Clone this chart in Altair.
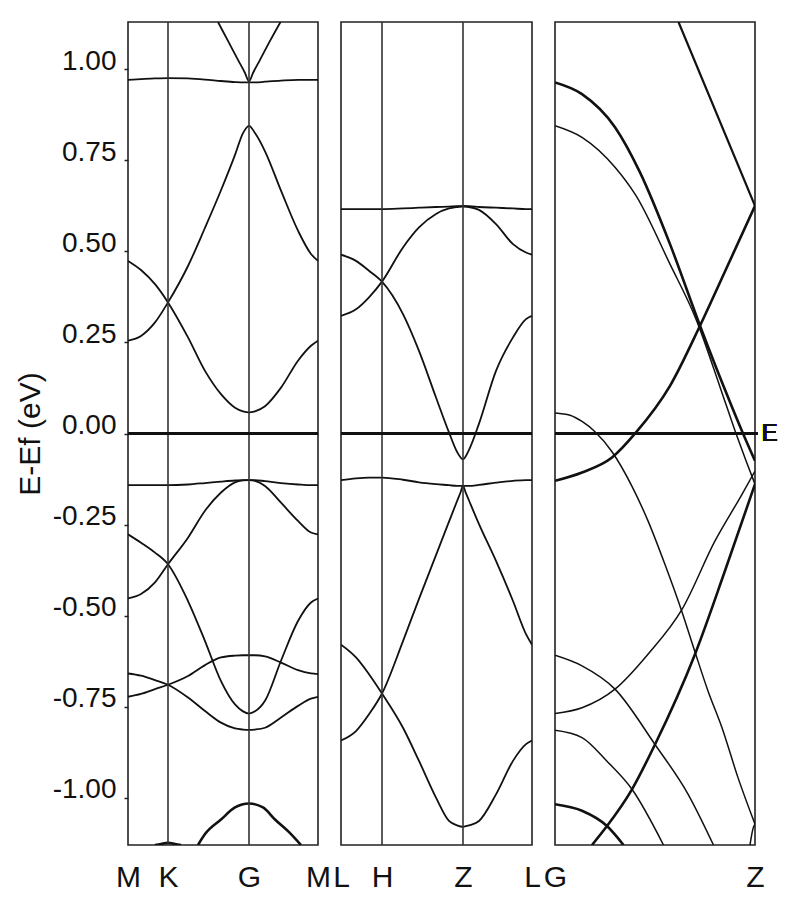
import altair as alt
import pandas as pd

FONT = "Liberation Sans"
INK = "#111111"

# ---------------- axis ticks and labels ----------------
Y_TICKS = [-1.0, -0.75, -0.5, -0.25, 0.0, 0.25, 0.5, 0.75, 1.0]
Y_TITLE = "E-Ef (eV)"
EF_LABEL = "E"

P1_TICKS = [0, 40, 121, 190]
P1_LABELS = ["M", "K", "G", "M"]
P2_TICKS = [0, 41, 122, 191]
P2_LABELS = ["L", "H", "Z", "L"]
P3_TICKS = [0, 200]
P3_LABELS = ["G", "Z"]

P1_VLINES = [40, 121]
P2_VLINES = [41, 122]

# ---------------- panel 1 : M-K-G-M ----------------
P1_K = [0, 13, 27, 40, 60, 77, 93, 107, 115, 121, 127, 137, 153, 170, 183, 190]
P1_FLAT_UP = [0.971, 0.973, 0.975, 0.976, 0.975, 0.972, 0.968, 0.965, 0.964, 0.964, 0.964, 0.966, 0.969, 0.971, 0.971, 0.971]
P1_BAND_X = [0.255, 0.268, 0.305, 0.36, 0.46, 0.565, 0.668, 0.765, 0.825, 0.845, 0.825, 0.775, 0.667, 0.557, 0.493, 0.474]
P1_BAND_Y = [0.474, 0.449, 0.41, 0.36, 0.264, 0.172, 0.108, 0.071, 0.061, 0.058, 0.061, 0.075, 0.126, 0.2, 0.241, 0.255]
P1_FLAT_DN = [-0.142, -0.142, -0.142, -0.142, -0.14, -0.136, -0.132, -0.129, -0.128, -0.128, -0.128, -0.131, -0.136, -0.14, -0.142, -0.142]
P1_BAND_Q = [-0.453, -0.441, -0.409, -0.359, -0.286, -0.212, -0.162, -0.134, -0.129, -0.128, -0.13, -0.144, -0.19, -0.24, -0.272, -0.277]
P1_BAND_P = [-0.277, -0.3, -0.327, -0.359, -0.46, -0.57, -0.68, -0.744, -0.763, -0.769, -0.763, -0.734, -0.624, -0.515, -0.464, -0.453]
P1_BAND_R = [-0.723, -0.715, -0.702, -0.69, -0.666, -0.636, -0.615, -0.61, -0.609, -0.609, -0.609, -0.612, -0.629, -0.65, -0.659, -0.661]
P1_BAND_S = [-0.659, -0.665, -0.677, -0.69, -0.725, -0.762, -0.794, -0.81, -0.813, -0.814, -0.813, -0.808, -0.78, -0.748, -0.728, -0.723]
P1_V_K = [90, 100, 110, 117, 121, 125, 132, 142, 152.5]
P1_V_E = [1.13, 1.078, 1.026, 0.99, 0.967, 0.99, 1.026, 1.078, 1.13]
P1_BOT_K = [70, 77, 93, 107, 121, 135, 147, 163, 173]
P1_BOT_E = [-1.13, -1.1, -1.06, -1.027, -1.016, -1.027, -1.06, -1.1, -1.13]
P1_BUMP_K = [27, 33, 40, 47, 53]
P1_BUMP_E = [-1.13, -1.127, -1.124, -1.127, -1.13]

# ---------------- panel 2 : L-H-Z-L ----------------
P2_K = [0, 15, 28, 41, 62, 78, 95, 108, 116, 122, 128, 138, 155, 172, 185, 191]
P2_FLAT_UP = [0.616, 0.616, 0.616, 0.616, 0.618, 0.62, 0.622, 0.623, 0.624, 0.624, 0.624, 0.622, 0.62, 0.618, 0.616, 0.616]
P2_BAND_A = [0.323, 0.341, 0.374, 0.417, 0.511, 0.566, 0.603, 0.618, 0.622, 0.624, 0.622, 0.614, 0.575, 0.52, 0.497, 0.491]
P2_BAND_B = [0.491, 0.474, 0.447, 0.417, 0.328, 0.227, 0.099, 0.003, -0.05, -0.071, -0.045, 0.027, 0.172, 0.264, 0.314, 0.323]
P2_FLAT_DN = [-0.128, -0.123, -0.121, -0.121, -0.127, -0.134, -0.139, -0.142, -0.144, -0.144, -0.144, -0.141, -0.135, -0.13, -0.128, -0.128]
P2_BAND_D = [-0.58, -0.615, -0.661, -0.714, -0.808, -0.899, -1.0, -1.064, -1.076, -1.08, -1.076, -1.064, -0.991, -0.899, -0.853, -0.843]
P2_C_K = [0, 15, 28, 41, 62, 78, 95, 108, 116, 119.5, 122, 124.5, 128, 138, 155, 172, 185, 191]
P2_C_E = [-0.843, -0.817, -0.771, -0.714, -0.57, -0.454, -0.334, -0.242, -0.186, -0.162, -0.144, -0.161, -0.184, -0.249, -0.35, -0.46, -0.551, -0.58]

# ---------------- panel 3 : G-Z ----------------
P3_D1_K = [123.5, 200]
P3_D1_E = [1.13, 0.625]
P3_D2_K = [0, 27, 57, 81, 115, 145, 171, 200]
P3_D2_E = [-0.13, -0.107, -0.066, 0.003, 0.131, 0.296, 0.451, 0.625]
P3_D3_K = [0, 27, 60, 85, 115, 145, 170, 188, 200]
P3_D3_E = [0.964, 0.932, 0.841, 0.717, 0.52, 0.296, 0.12, 0.0, -0.075]
P3_D4_K = [0, 27, 60, 81, 115, 141, 165, 181, 191, 200]
P3_D4_E = [0.845, 0.813, 0.731, 0.653, 0.465, 0.314, 0.128, 0.0, -0.075, -0.139]
P3_D5_K = [0, 15, 27, 40, 57, 77, 93, 110, 127, 140, 153, 167, 183, 200]
P3_D5_E = [0.056, 0.05, 0.033, 0.005, -0.05, -0.145, -0.24, -0.36, -0.49, -0.6, -0.707, -0.808, -0.945, -1.073]
P3_D6_K = [195, 196.5, 198, 200]
P3_D6_E = [-1.13, -1.105, -1.085, -1.073]
P3_U1_K = [0, 27, 60, 93, 127, 160, 187, 200]
P3_U1_E = [-0.769, -0.753, -0.702, -0.606, -0.483, -0.295, -0.167, -0.103]
P3_U2_K = [37, 52, 77, 100, 140, 170, 200]
P3_U2_E = [-1.13, -1.078, -0.977, -0.854, -0.606, -0.377, -0.139]
P3_L1_K = [0, 27, 60, 100, 133, 158.5]
P3_L1_E = [-0.609, -0.638, -0.702, -0.854, -0.99, -1.13]
P3_L2_K = [0, 27, 52, 77, 108.5]
P3_L2_E = [-0.815, -0.835, -0.9, -0.977, -1.13]
P3_L3_K = [0, 27, 52, 68.5]
P3_L3_E = [-1.018, -1.036, -1.078, -1.13]

THIN, MID, THICK = 1.5, 1.8, 2.6

P1_BANDS = [
    ("flat_up", P1_K, P1_FLAT_UP, MID), ("x", P1_K, P1_BAND_X, MID),
    ("y", P1_K, P1_BAND_Y, MID), ("flat_dn", P1_K, P1_FLAT_DN, MID),
    ("q", P1_K, P1_BAND_Q, MID), ("p", P1_K, P1_BAND_P, MID),
    ("r", P1_K, P1_BAND_R, MID), ("s", P1_K, P1_BAND_S, MID),
    ("v", P1_V_K, P1_V_E, MID), ("bot", P1_BOT_K, P1_BOT_E, THICK),
    ("bump", P1_BUMP_K, P1_BUMP_E, THICK),
]
P2_BANDS = [
    ("flat_up", P2_K, P2_FLAT_UP, MID), ("a", P2_K, P2_BAND_A, MID),
    ("b", P2_K, P2_BAND_B, MID), ("flat_dn", P2_K, P2_FLAT_DN, MID),
    ("c", P2_C_K, P2_C_E, MID), ("d", P2_K, P2_BAND_D, MID),
]
P3_BANDS = [
    ("d1", P3_D1_K, P3_D1_E, 2.2), ("d2", P3_D2_K, P3_D2_E, THICK),
    ("d3", P3_D3_K, P3_D3_E, THICK), ("d4", P3_D4_K, P3_D4_E, THIN),
    ("d5", P3_D5_K, P3_D5_E, THIN), ("d6", P3_D6_K, P3_D6_E, THIN),
    ("u1", P3_U1_K, P3_U1_E, THIN), ("u2", P3_U2_K, P3_U2_E, THICK),
    ("l1", P3_L1_K, P3_L1_E, THIN), ("l2", P3_L2_K, P3_L2_E, THIN),
    ("l3", P3_L3_K, P3_L3_E, THICK),
]

H = 823
Y_DOMAIN = [-1.13, 1.13]


def frame(bands):
    rows = []
    for name, ks, es, w in bands:
        for k, e in zip(ks, es):
            rows.append({"band": name, "k": k, "E": e, "w": w})
    return pd.DataFrame(rows)


def label_expr(ticks, labels):
    expr = "''"
    for t, l in reversed(list(zip(ticks, labels))):
        expr = f"datum.value == {t} ? '{l}' : ({expr})"
    return expr


Y_LABEL_EXPR = "replace(format(datum.value, '.2f'), '\u2212', '-')"


def panel(bands, width, kmax, ticks, labels, vlines, first=False, last=False):
    df = frame(bands)
    xaxis = alt.Axis(values=ticks, labelExpr=label_expr(ticks, labels),
                     tickSize=0, labelPadding=17, labelFontSize=30,
                     labelFlush=False, labelOverlap=False, domain=False, grid=False)
    if first:
        yaxis = alt.Axis(values=Y_TICKS, labelExpr=Y_LABEL_EXPR, tickSize=4,
                         tickWidth=1.5, tickColor="#222", labelPadding=8,
                         labelFontSize=28, labelBaseline="alphabetic",
                         domain=False, grid=False, title=Y_TITLE, titleFontSize=30,
                         titleFontWeight="normal", titleX=-89, titleY=H / 2,
                         titleAngle=270, titleAlign="center",
                         titleBaseline="alphabetic")
    else:
        yaxis = alt.Axis(labels=False, ticks=False, domain=False, grid=False, title=None)

    xs = alt.Scale(domain=[0, kmax], nice=False, zero=False)
    ys = alt.Scale(domain=Y_DOMAIN, nice=False, zero=False)

    lines = alt.Chart(df).mark_line(interpolate="monotone", clip=True, color=INK).encode(
        x=alt.X("k:Q", scale=xs, axis=xaxis, title=None),
        y=alt.Y("E:Q", scale=ys, axis=yaxis, title=Y_TITLE if first else None),
        detail="band:N",
        strokeWidth=alt.StrokeWidth("w:Q", scale=None, legend=None),
    )
    layers = []
    if vlines:
        vdf = pd.DataFrame({"k": vlines})
        layers.append(alt.Chart(vdf).mark_rule(color="#333", strokeWidth=1.6).encode(x="k:Q"))
    if last:
        zero = alt.Chart(df).mark_rule(color=INK, strokeWidth=1.3).encode(
            x=alt.value(0), x2=alt.value(width + 3), y=alt.datum(0))
        etext = alt.Chart(df).mark_text(align="left", baseline="middle", fontSize=24,
                                        font=FONT, color=INK).encode(
            x=alt.value(width + 6.5), y=alt.datum(0), text=alt.value(EF_LABEL))
        layers += [zero, etext]
    else:
        layers.append(alt.Chart(df).mark_rule(color=INK, strokeWidth=1.3).encode(y=alt.datum(0)))
    return alt.layer(lines, *layers).properties(width=width, height=H)


p1 = panel(P1_BANDS, 190, 190, P1_TICKS, P1_LABELS, P1_VLINES, first=True)
p2 = panel(P2_BANDS, 191, 191, P2_TICKS, P2_LABELS, P2_VLINES)
p3 = panel(P3_BANDS, 200, 200, P3_TICKS, P3_LABELS, [], last=True)

chart = alt.hconcat(p1, p2, p3, spacing=23).properties(
    bounds="flush",
    padding={"left": 6, "top": 12, "right": 0, "bottom": 5},
).configure_view(stroke="#222", strokeWidth=1.6).configure_axis(
    labelFont=FONT, titleFont=FONT, labelColor=INK, titleColor=INK
)

chart.save("out.html", embed_options={"renderer": "svg", "actions": False})
